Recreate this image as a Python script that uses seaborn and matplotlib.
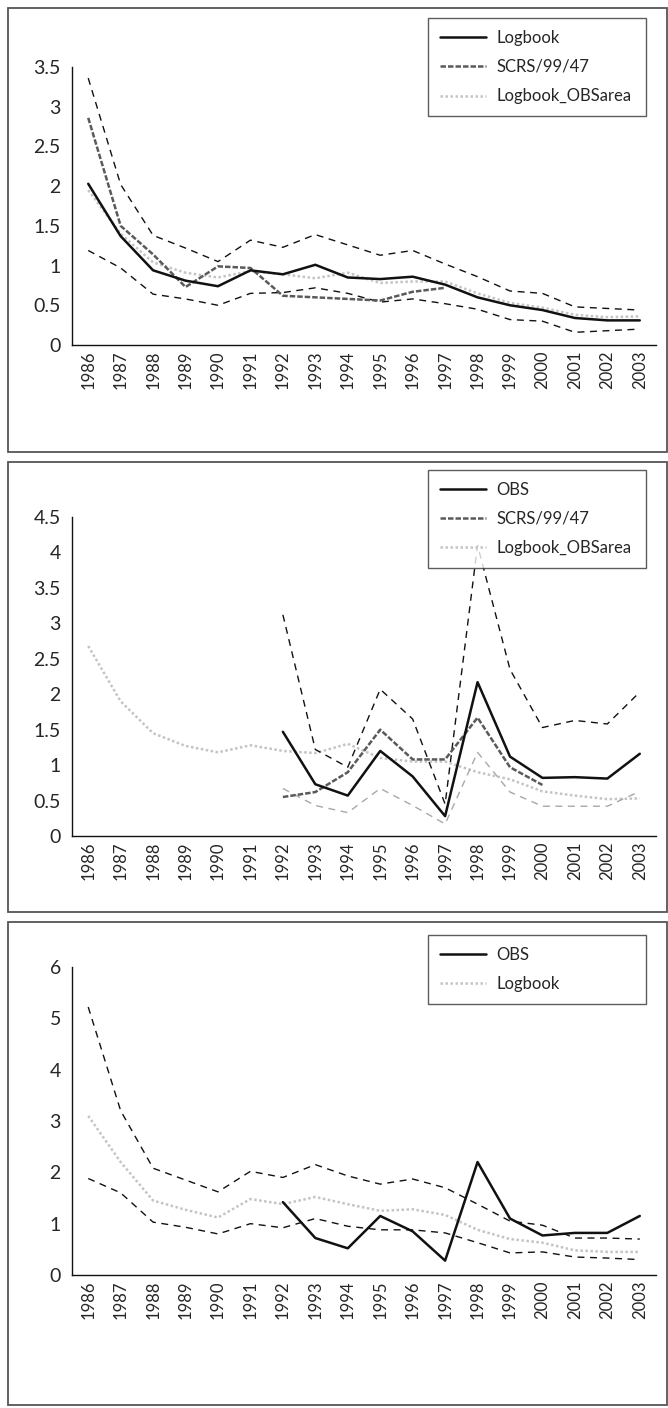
import numpy as np
import pandas as pd
import matplotlib
matplotlib.use('Agg')
import matplotlib.pyplot as plt
from matplotlib.patches import Rectangle
from matplotlib.ticker import MultipleLocator, FormatStrFormatter
import seaborn as sns

# Data
years = list(range(1986, 2004))
years_obs = list(range(1992, 2004))

# panel 1
p1_logbook = [2.03, 1.37, 0.94, 0.81, 0.74, 0.94, 0.89, 1.01, 0.85, 0.83, 0.86, 0.76, 0.60, 0.50, 0.44, 0.34, 0.31, 0.31]
p1_scrs_years = list(range(1986, 1998))
p1_scrs = [2.86, 1.50, 1.14, 0.73, 0.99, 0.97, 0.62, 0.60, 0.58, 0.56, 0.67, 0.72]
p1_obsarea = [1.95, 1.40, 1.04, 0.91, 0.85, 0.93, 0.89, 0.84, 0.91, 0.78, 0.80, 0.80, 0.65, 0.53, 0.47, 0.38, 0.35, 0.36]
p1_upper = [3.36, 2.02, 1.38, 1.22, 1.05, 1.32, 1.23, 1.39, 1.26, 1.13, 1.19, 1.02, 0.86, 0.68, 0.65, 0.48, 0.46, 0.44]
p1_lower = [1.19, 0.97, 0.64, 0.58, 0.50, 0.65, 0.66, 0.72, 0.65, 0.54, 0.58, 0.52, 0.45, 0.32, 0.30, 0.16, 0.18, 0.20]

# panel 2
p2_obs = [1.47, 0.73, 0.57, 1.20, 0.84, 0.28, 2.17, 1.12, 0.82, 0.83, 0.81, 1.16]
p2_scrs_years = list(range(1992, 2001))
p2_scrs = [0.55, 0.62, 0.90, 1.50, 1.08, 1.08, 1.67, 0.97, 0.72]
p2_obsarea = [2.68, 1.90, 1.45, 1.27, 1.18, 1.28, 1.20, 1.17, 1.30, 1.10, 1.05, 1.05, 0.90, 0.80, 0.63, 0.57, 0.52, 0.53]
p2_upper = [3.12, 1.22, 0.97, 2.07, 1.65, 0.45, 4.10, 2.35, 1.53, 1.63, 1.58, 2.03]
p2_lower = [0.67, 0.43, 0.33, 0.67, 0.43, 0.17, 1.18, 0.62, 0.42, 0.42, 0.42, 0.63]

# panel 3
p3_obs = [1.42, 0.72, 0.52, 1.15, 0.85, 0.28, 2.20, 1.10, 0.77, 0.82, 0.82, 1.15]
p3_logbook = [3.10, 2.20, 1.45, 1.27, 1.12, 1.48, 1.38, 1.52, 1.38, 1.25, 1.28, 1.17, 0.88, 0.70, 0.63, 0.48, 0.45, 0.45]
p3_upper = [5.22, 3.20, 2.08, 1.85, 1.62, 2.02, 1.90, 2.15, 1.93, 1.77, 1.87, 1.70, 1.38, 1.05, 0.97, 0.72, 0.72, 0.70]
p3_lower = [1.88, 1.60, 1.03, 0.93, 0.80, 1.00, 0.92, 1.10, 0.95, 0.88, 0.88, 0.82, 0.63, 0.43, 0.45, 0.35, 0.33, 0.30]

sns.set_style('white')
plt.rcParams['font.family'] = ['Lato', 'DejaVu Sans']
plt.rcParams['font.size'] = 12

W, H = 668, 1408
fig = plt.figure(figsize=(W / 100, H / 100), dpi=100)

# styles
solid = dict(color='#111111', lw=1.8, ls='-')
scrs = dict(color='#5a5a5a', lw=1.8, ls=(0, (2.2, 0.8)))
dotted = dict(color='#c4c4c4', lw=1.8, ls=(0, (1, 1)))
ci = dict(color='#111111', lw=1.0, ls=(0, (5, 4)))
ci_grey = dict(color='#a8a8a8', lw=1.0, ls=(0, (5, 4)))


def px_rect(x0, y0, x1, y1):
    return [x0 / W, 1 - y1 / H, (x1 - x0) / W, (y1 - y0) / H]


def line(ax, x, y, style, label=None):
    df = pd.DataFrame({'year': x, 'val': y})
    sns.lineplot(data=df, x='year', y='val', ax=ax, label=label,
                 color=style['color'], lw=style['lw'], linestyle=style['ls'],
                 legend=False, errorbar=None)


def style_axes(ax, ymax, step):
    ax.set_xlim(1985.5, 2003.5)
    ax.set_ylim(0, ymax)
    ax.yaxis.set_major_locator(MultipleLocator(step))
    ax.yaxis.set_major_formatter(FormatStrFormatter('%g'))
    ax.set_xticks(years)
    ax.set_xticklabels([str(y) for y in years], rotation=90)
    ax.set_xticks(np.arange(1985.5, 2004, 1.0), minor=True)
    ax.tick_params(axis='x', which='major', length=0, pad=4, labelsize=12)
    ax.tick_params(axis='x', which='minor', length=5, width=1, direction='out', color='#111111')
    ax.tick_params(axis='y', length=5, width=1, direction='out', labelsize=14, color='#111111', pad=3)
    ax.set_xlabel('')
    ax.set_ylabel('')
    sns.despine(ax=ax)
    for s in ['left', 'bottom']:
        ax.spines[s].set_color('#111111')
        ax.spines[s].set_linewidth(1.0)


def frame(y0, y1):
    fig.patches.append(Rectangle((8 / W, 1 - y1 / H), 659 / W, (y1 - y0) / H,
                                 transform=fig.transFigure, fill=False,
                                 edgecolor='#555555', lw=1.3))


def legend(ax, handles, labels, top):
    fig.legend(handles, labels, loc='upper left',
               bbox_to_anchor=(428 / W, 1 - top / H - 0.01, 218 / W, 0.01),
               mode='expand', frameon=True, fancybox=False, edgecolor='#333333',
               handlelength=2.8, handletextpad=0.6, labelspacing=0.8,
               borderpad=0.7, borderaxespad=0, fontsize=12)


# Panel 1
frame(8, 452)
ax1 = fig.add_axes(px_rect(72, 67, 656, 345))
line(ax1, years, p1_upper, ci)
line(ax1, years, p1_lower, ci)
line(ax1, years, p1_obsarea, dotted)
line(ax1, p1_scrs_years, p1_scrs, scrs)
line(ax1, years, p1_logbook, solid)
style_axes(ax1, 3.5, 0.5)
h = [plt.Line2D([], [], color=s['color'], lw=s['lw'], ls=s['ls']) for s in (solid, scrs, dotted)]
legend(ax1, h, ['Logbook', 'SCRS/99/47', 'Logbook_OBSarea'], 18)

# Panel 2
frame(462, 912)
ax2 = fig.add_axes(px_rect(72, 517, 656, 836))
line(ax2, years, p2_obsarea, dotted)
line(ax2, years_obs, p2_upper, ci)
line(ax2, years_obs, p2_lower, ci_grey)
line(ax2, p2_scrs_years, p2_scrs, scrs)
line(ax2, years_obs, p2_obs, solid)
style_axes(ax2, 4.5, 0.5)
legend(ax2, h, ['OBS', 'SCRS/99/47', 'Logbook_OBSarea'], 470)

# Panel 3
frame(922, 1405)
ax3 = fig.add_axes(px_rect(72, 967, 656, 1275))
line(ax3, years, p3_upper, ci)
line(ax3, years, p3_lower, ci)
line(ax3, years, p3_logbook, dotted)
line(ax3, years_obs, p3_obs, solid)
style_axes(ax3, 6, 1)
legend(ax3, [h[0], h[2]], ['OBS', 'Logbook'], 935)

fig.savefig('out.png', dpi=100)
